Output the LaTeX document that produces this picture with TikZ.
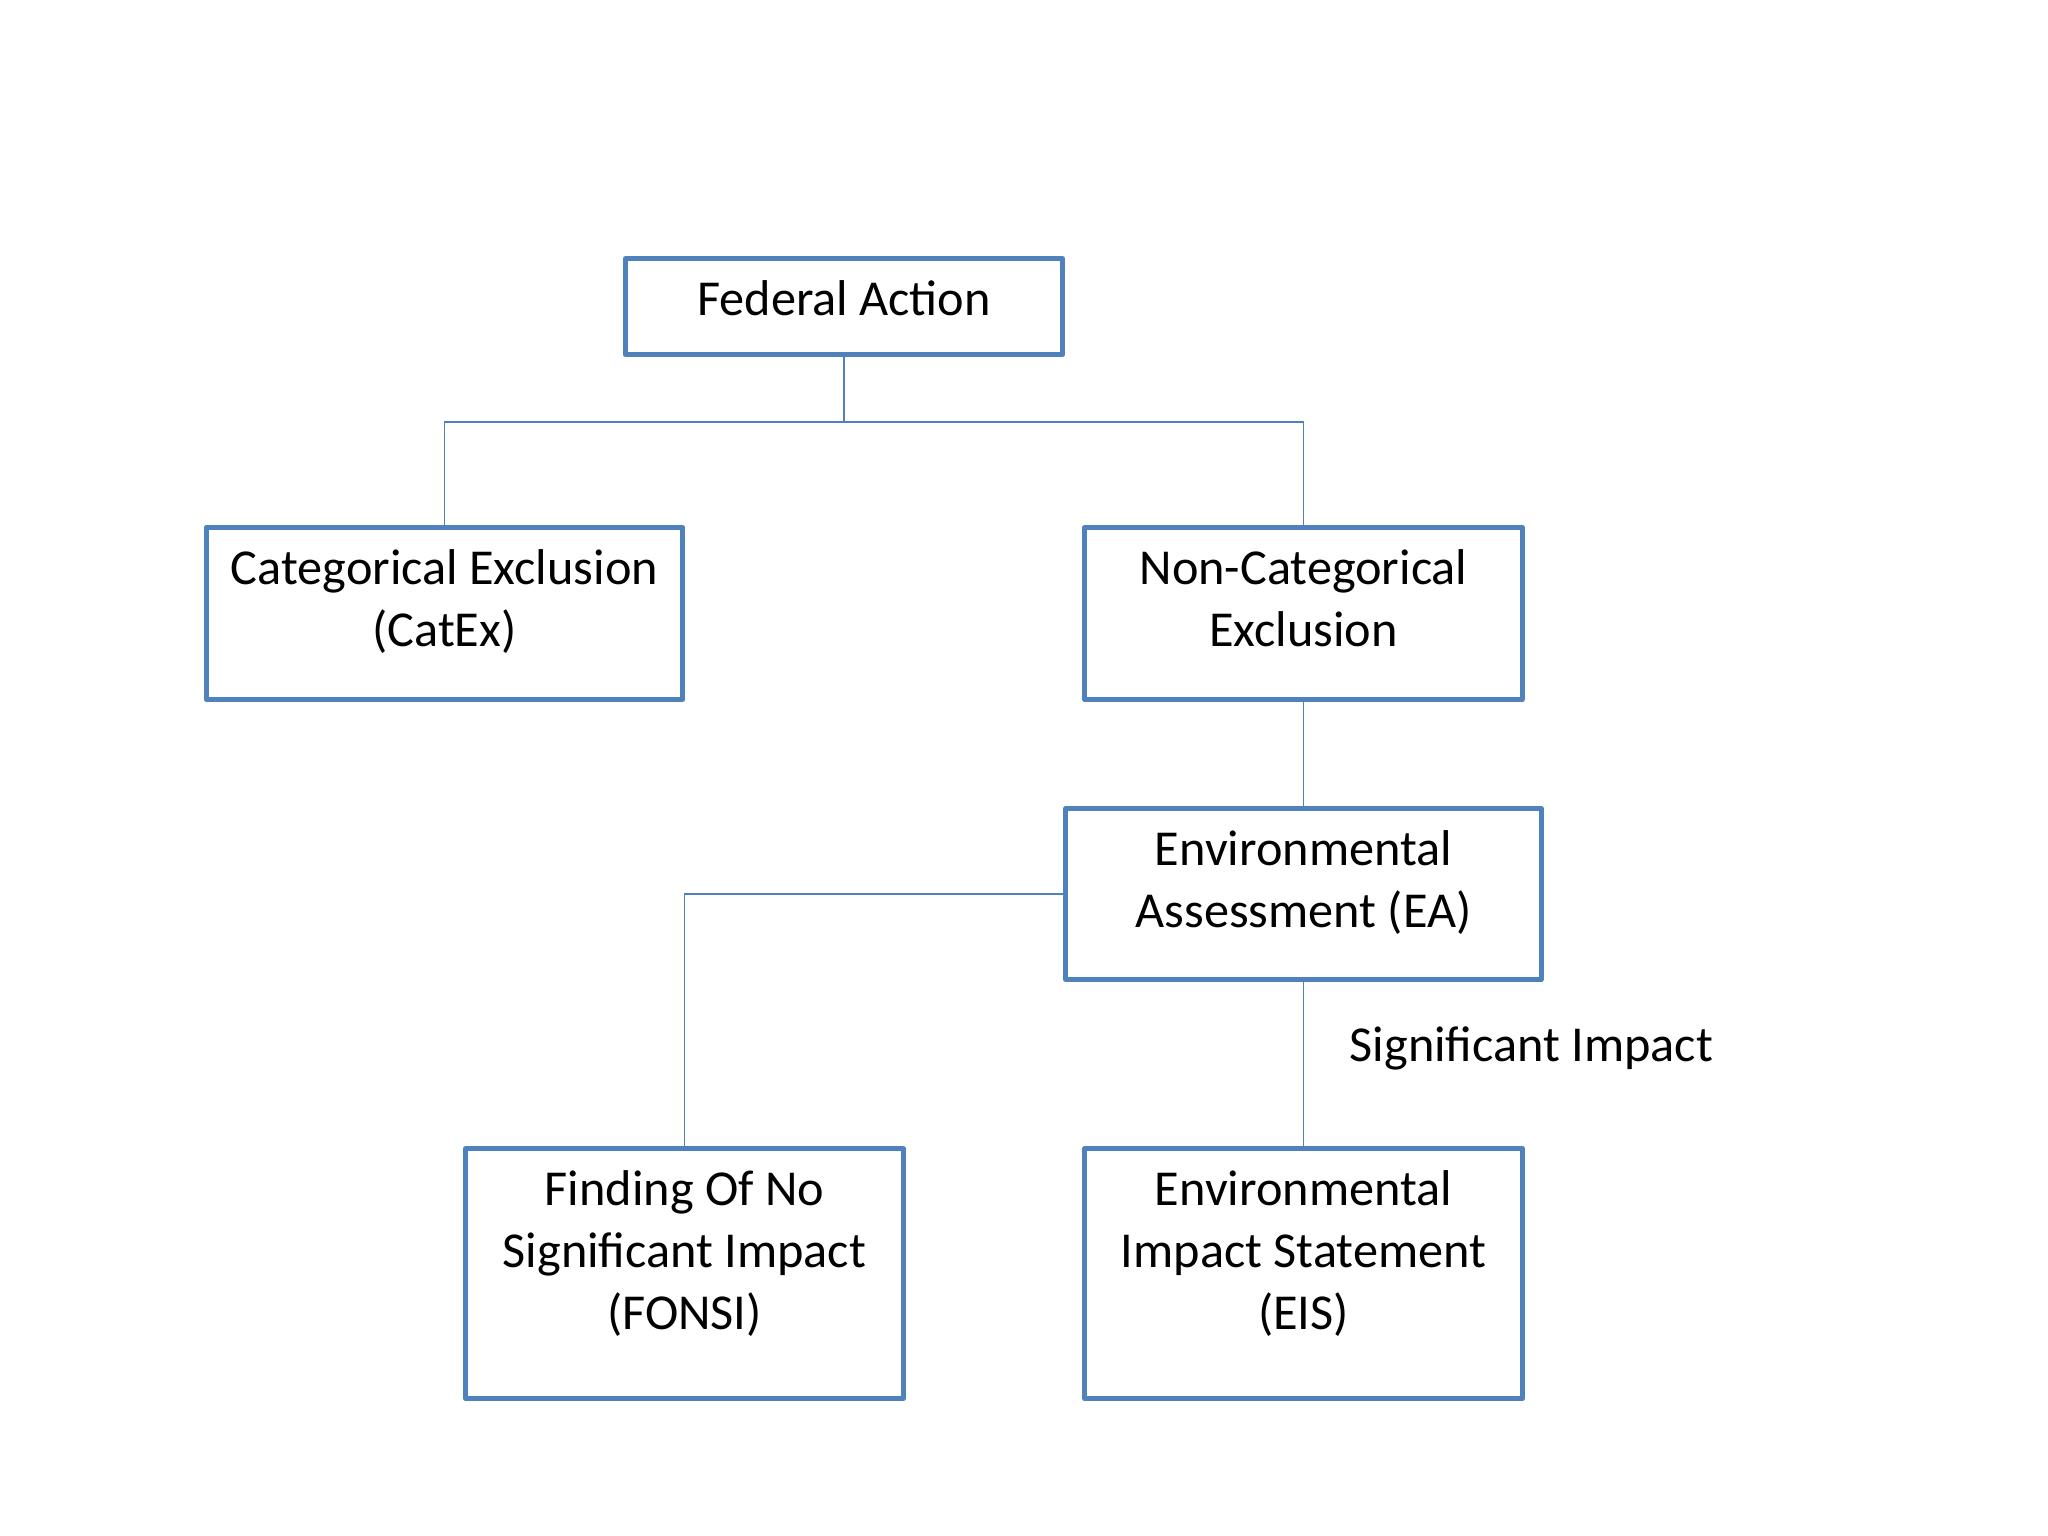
\documentclass[tikz,border=0pt]{standalone}
\usepackage{fontspec}
\setmainfont{Carlito}
\newcommand\mystrut{\rule{0pt}{13pt}}
\definecolor{boxblue}{HTML}{4F81BD}
\begin{document}
\begin{tikzpicture}[x=0.01cm,y=-0.01cm]
\tikzset{
  box/.style={draw=boxblue, line width=1.4pt, line join=round, inner sep=0pt, fill=white},
  boxtext/.style={anchor=north, inner sep=0pt, align=center, font=\fontsize{14.3pt}{17.6pt}\selectfont},
  link/.style={draw=boxblue, line width=0.55pt},
  plain/.style={inner sep=0pt, font=\fontsize{14.3pt}{17.6pt}\selectfont}
}
\fill[white] (0,0) rectangle (2048,1536);
\useasboundingbox (0,0) rectangle (2048,1536);

\node[box, minimum width=4.37cm, minimum height=0.96cm] (fa) at (844,306.5) {};
\node[box, minimum width=4.76cm, minimum height=1.72cm] (cat) at (444.5,613.5) {};
\node[box, minimum width=4.37cm, minimum height=1.72cm] (ncat) at (1303.5,613.5) {};
\node[box, minimum width=4.75cm, minimum height=1.71cm] (ea) at (1303.5,894) {};
\node[box, minimum width=4.37cm, minimum height=2.50cm] (fonsi) at (684.5,1273.5) {};
\node[box, minimum width=4.37cm, minimum height=2.50cm] (eis) at (1303.5,1273.5) {};

\node[boxtext] (fat) at ([yshift=-3.8pt]fa.north) {\mystrut Federal Action};
\node[boxtext] (catt) at ([yshift=-3.8pt]cat.north) {\mystrut Categorical Exclusion\\(CatEx)};
\node[boxtext] (ncatt) at ([yshift=-3.8pt]ncat.north) {\mystrut Non-Categorical\\Exclusion};
\node[boxtext] (eat) at ([yshift=-3.8pt]ea.north) {\mystrut Environmental\\Assessment (EA)};
\node[boxtext] (fonsit) at ([yshift=-3.8pt]fonsi.north) {\mystrut Finding Of No\\Significant Impact\\(FONSI)};
\node[boxtext] (eist) at ([yshift=-3.8pt]eis.north) {\mystrut Environmental\\Impact Statement\\(EIS)};

\coordinate (j1) at (844,422);
\draw[link] (fa.south) -- (j1);
\draw[link] (cat.north) |- (j1) -| (ncat.north);
\draw[link] (ncat.south) -- (ea.north);
\draw[link] (ea.west) -| (fonsi.north);
\draw[link] (ea.south) -- (eis.north);

\node[plain, anchor=base west] (sig) at (1349,1061) {Significant Impact};
\end{tikzpicture}
\end{document}
